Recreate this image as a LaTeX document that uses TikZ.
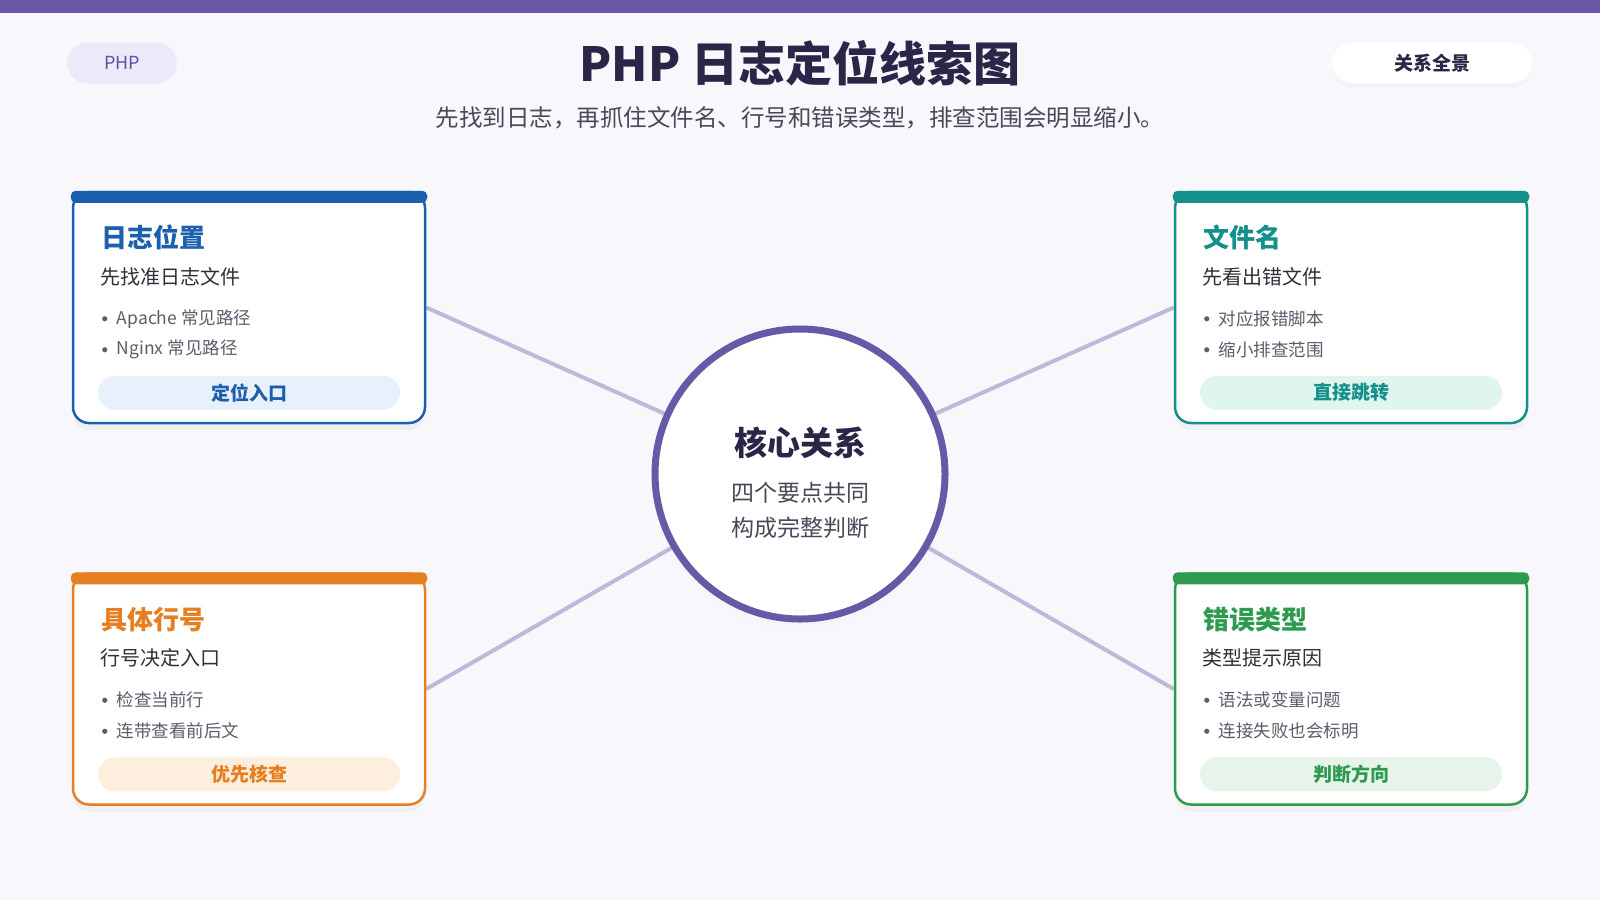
\documentclass[tikz,border=0pt]{standalone}
\usepackage{fontspec}
\setmainfont{Noto Sans CJK SC}
\usetikzlibrary{calc,shadows}

\definecolor{bgpage}{HTML}{F7F7FC}
\definecolor{barpurple}{HTML}{6858A6}
\definecolor{inkdark}{HTML}{2B2647}
\definecolor{inkgray}{HTML}{4A4858}
\definecolor{subdark}{HTML}{2F2F3A}
\definecolor{bulletgray}{HTML}{5C5C6B}
\definecolor{linkline}{HTML}{BEB9D9}
\definecolor{pilllav}{HTML}{ECE9F9}
\definecolor{pilltext}{HTML}{5B4FA6}
\definecolor{logblue}{HTML}{1C5FAE}
\definecolor{logbluebg}{HTML}{E7F0FB}
\definecolor{fileteal}{HTML}{13908A}
\definecolor{filetealbg}{HTML}{E0F4F0}
\definecolor{lineorange}{HTML}{E67E22}
\definecolor{lineorangebg}{HTML}{FDEEDD}
\definecolor{typegreen}{HTML}{2E9A4E}
\definecolor{typegreenbg}{HTML}{E6F4E9}

\pgfdeclarelayer{back}
\pgfdeclarelayer{links}
\pgfsetlayers{back,links,main}

\begin{document}
\begin{tikzpicture}[
  x=1pt,y=-1pt,
  card/.style={draw=#1,line width=2.5pt,fill=white,rounded corners=16pt,
    minimum width=352pt,minimum height=231pt,inner sep=0pt,
    drop shadow={opacity=0.06,shadow xshift=0pt,shadow yshift=-7pt}},
  cardbar/.style={fill=#1,rounded corners=5pt},
  cardtitle/.style={text=#1,anchor=west,inner sep=0pt,
    font=\fontsize{26}{30}\selectfont\bfseries},
  cardsub/.style={text=subdark,anchor=west,inner sep=0pt,
    font=\fontsize{20}{24}\selectfont},
  carditem/.style={text=bulletgray,anchor=west,inner sep=0pt,
    font=\fontsize{17.5}{21}\selectfont},
  dot/.style={fill=bulletgray},
  cardbtn/.style={fill=#1,rounded corners=17pt,minimum width=302pt,
    minimum height=34pt,inner sep=0pt},
  btntext/.style={text=#1,font=\fontsize{19}{22}\selectfont\bfseries},
  link/.style={linkline,line width=4pt},
  pill/.style={rounded corners=21pt,inner sep=0pt,minimum height=41pt}
]
  \useasboundingbox (0,0) rectangle (1600,900);
  \begin{pgfonlayer}{back}
    \fill[bgpage] (0,0) rectangle (1600,900);
    \fill[barpurple] (0,0) rectangle (1600,13);
  \end{pgfonlayer}

  % Header: tag pill, title, subtitle, view pill
  \node[pill,fill=pilllav,minimum width=110pt,text=pilltext,
    font=\fontsize{18}{22}\selectfont] (tag) at (122,63) {PHP};
  \node[text=inkdark,font=\fontsize{47}{54}\selectfont\bfseries] (title)
    at (800,63) {PHP 日志定位线索图};
  \node[text=inkgray,font=\fontsize{23.5}{28}\selectfont] (subtitle)
    at (800,118) {先找到日志，再抓住文件名、行号和错误类型，排查范围会明显缩小。};
  \node[pill,fill=white,minimum width=200pt,text=inkdark,
    font=\fontsize{19}{22}\selectfont\bfseries,
    drop shadow={opacity=0.04,shadow xshift=0pt,shadow yshift=-4pt}]
    (view) at (1432,63) {关系全景};

  % Centre circle
  \node[circle,draw=barpurple,line width=7pt,fill=white,minimum size=290pt,
    circular drop shadow={opacity=0.06,shadow xshift=0pt,shadow yshift=-8pt,
      shadow scale=1.02}] (core) at (800,474) {};
  \node[text=inkdark,font=\fontsize{33}{38}\selectfont\bfseries]
    (coretitle) at (800,443) {核心关系};
  \node[text=inkgray,font=\fontsize{23}{27}\selectfont]
    (coreline1) at (800,493) {四个要点共同};
  \node[text=inkgray,font=\fontsize{23}{27}\selectfont]
    (coreline2) at (800,528) {构成完整判断};

  % Card 1: log location (top left)
  \node[card=logblue] (logcard) at (249,307.5) {};
  \fill[cardbar=logblue] ($(logcard.north west)+(-1,0)$)
    rectangle ($(logcard.north east)+(1,12)$);
  \node[cardtitle=logblue] (logtitle) at ([shift={(30,47)}]logcard.north west) {日志位置};
  \node[cardsub] (logsub) at ([shift={(29,86)}]logcard.north west) {先找准日志文件};
  \fill[dot] ([shift={(33,128)}]logcard.north west) circle (2.6pt);
  \node[carditem] (logitem1) at ([shift={(45,128)}]logcard.north west) {Apache 常见路径};
  \fill[dot] ([shift={(33,159)}]logcard.north west) circle (2.6pt);
  \node[carditem] (logitem2) at ([shift={(45,159)}]logcard.north west) {Nginx 常见路径};
  \node[cardbtn=logbluebg] (logbtn) at ([yshift=-202pt]logcard.north) {};
  \node[btntext=logblue] at (logbtn) {定位入口};

  % Card 2: file name (top right)
  \node[card=fileteal] (filecard) at (1351,307.5) {};
  \fill[cardbar=fileteal] ($(filecard.north west)+(-1,0)$)
    rectangle ($(filecard.north east)+(1,12)$);
  \node[cardtitle=fileteal] (filetitle) at ([shift={(30,47)}]filecard.north west) {文件名};
  \node[cardsub] (filesub) at ([shift={(29,86)}]filecard.north west) {先看出错文件};
  \fill[dot] ([shift={(33,128)}]filecard.north west) circle (2.6pt);
  \node[carditem] (fileitem1) at ([shift={(45,128)}]filecard.north west) {对应报错脚本};
  \fill[dot] ([shift={(33,159)}]filecard.north west) circle (2.6pt);
  \node[carditem] (fileitem2) at ([shift={(45,159)}]filecard.north west) {缩小排查范围};
  \node[cardbtn=filetealbg] (filebtn) at ([yshift=-202pt]filecard.north) {};
  \node[btntext=fileteal] at (filebtn) {直接跳转};

  % Card 3: line number (bottom left)
  \node[card=lineorange] (linecard) at (249,689) {};
  \fill[cardbar=lineorange] ($(linecard.north west)+(-1,0)$)
    rectangle ($(linecard.north east)+(1,12)$);
  \node[cardtitle=lineorange] (linetitle) at ([shift={(30,47)}]linecard.north west) {具体行号};
  \node[cardsub] (linesub) at ([shift={(29,86)}]linecard.north west) {行号决定入口};
  \fill[dot] ([shift={(33,128)}]linecard.north west) circle (2.6pt);
  \node[carditem] (lineitem1) at ([shift={(45,128)}]linecard.north west) {检查当前行};
  \fill[dot] ([shift={(33,159)}]linecard.north west) circle (2.6pt);
  \node[carditem] (lineitem2) at ([shift={(45,159)}]linecard.north west) {连带查看前后文};
  \node[cardbtn=lineorangebg] (linebtn) at ([yshift=-202pt]linecard.north) {};
  \node[btntext=lineorange] at (linebtn) {优先核查};

  % Card 4: error type (bottom right)
  \node[card=typegreen] (typecard) at (1351,689) {};
  \fill[cardbar=typegreen] ($(typecard.north west)+(-1,0)$)
    rectangle ($(typecard.north east)+(1,12)$);
  \node[cardtitle=typegreen] (typetitle) at ([shift={(30,47)}]typecard.north west) {错误类型};
  \node[cardsub] (typesub) at ([shift={(29,86)}]typecard.north west) {类型提示原因};
  \fill[dot] ([shift={(33,128)}]typecard.north west) circle (2.6pt);
  \node[carditem] (typeitem1) at ([shift={(45,128)}]typecard.north west) {语法或变量问题};
  \fill[dot] ([shift={(33,159)}]typecard.north west) circle (2.6pt);
  \node[carditem] (typeitem2) at ([shift={(45,159)}]typecard.north west) {连接失败也会标明};
  \node[cardbtn=typegreenbg] (typebtn) at ([yshift=-202pt]typecard.north) {};
  \node[btntext=typegreen] at (typebtn) {判断方向};

  % Spokes from each card to the centre, kept behind everything
  \begin{pgfonlayer}{links}
    \draw[link] (logcard.east) -- (core.center);
    \draw[link] (filecard.west) -- (core.center);
    \draw[link] (linecard.east) -- (core.center);
    \draw[link] (typecard.west) -- (core.center);
  \end{pgfonlayer}
\end{tikzpicture}
\end{document}
